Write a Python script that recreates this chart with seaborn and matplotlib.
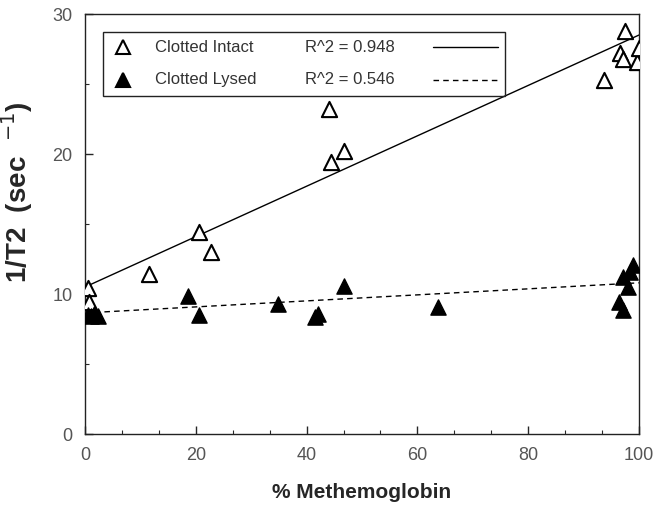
import numpy as np
import pandas as pd
import seaborn as sns
import matplotlib.pyplot as plt
from matplotlib.patches import Rectangle
from matplotlib.ticker import MultipleLocator

# data
intact_x = [0.6, 0.8, 11.6, 20.6, 22.7, 44.0, 44.4, 46.8, 93.7, 96.6, 97.2, 97.5, 99.6, 100.0]
intact_y = [10.4, 9.45, 11.4, 14.4, 13.0, 23.2, 19.4, 20.2, 25.3, 27.2, 26.8, 28.8, 26.6, 27.6]
lysed_x = [0.5, 1.0, 1.6, 2.3, 18.6, 20.6, 34.8, 41.5, 42.1, 46.8, 63.7, 96.3, 97.2, 97.2, 98.1, 98.4, 99.0]
lysed_y = [8.5, 8.4, 8.6, 8.4, 9.85, 8.5, 9.26, 8.38, 8.57, 10.6, 9.1, 9.45, 8.86, 11.2, 10.5, 11.6, 12.07]

# linear fits (intercept, slope) and R^2 as printed
intact_fit = (10.5, 0.180)
lysed_fit = (8.65, 0.0215)
intact_r2 = 0.948
lysed_r2 = 0.546

sns.set_style('ticks')
plt.rcParams['font.family'] = ['Liberation Sans', 'DejaVu Sans']

fig = plt.figure(figsize=(6.63, 5.12), dpi=100)
ax = fig.add_axes([0.1282, 0.1523, 0.8356, 0.8203])

sns.scatterplot(x=intact_x, y=intact_y, marker='^', s=120, color='white',
                edgecolor='black', linewidth=1.5, zorder=3, ax=ax)
sns.scatterplot(x=lysed_x, y=lysed_y, marker='^', s=120, color='black',
                edgecolor='black', linewidth=1.0, zorder=3, ax=ax)

fit_x = np.array([0, 100])
sns.lineplot(x=fit_x, y=intact_fit[0] + intact_fit[1] * fit_x, color='black', lw=1.0, ax=ax)
ax.lines[-1].set_linestyle('-')
sns.lineplot(x=fit_x, y=lysed_fit[0] + lysed_fit[1] * fit_x, color='black', lw=1.0, ax=ax)
ax.lines[-1].set_linestyle((0, (4, 3)))

ax.set(xlim=(0, 100), ylim=(0, 30))
ax.set_xticks([0, 20, 40, 60, 80, 100])
ax.set_yticks([0, 10, 20, 30])
ax.xaxis.set_minor_locator(MultipleLocator(20 / 3))
ax.yaxis.set_minor_locator(MultipleLocator(5))
ax.tick_params(which='major', direction='in', length=6, width=1, labelsize=13,
               labelcolor='#555555', pad=9)
ax.tick_params(which='minor', direction='in', length=3, width=0.8)
for s in ax.spines.values():
    s.set_linewidth(1.0)
    s.set_color('#222222')

ax.set_xlabel('% Methemoglobin', fontsize=15, fontweight='bold', labelpad=14)
ax.set_ylabel('1/T2  (sec  $^{-1}$)', fontsize=20, fontweight='bold')
ax.yaxis.set_label_coords(-0.09, 0.575)

# custom legend box
ax.add_patch(Rectangle((0.0325, 0.805), 0.7255, 0.152, transform=ax.transAxes,
                       fill=False, edgecolor='#222222', lw=1.0, zorder=4))
rows = [(0.921, 'white', 'Clotted Intact', intact_r2, '-'),
        (0.843, 'black', 'Clotted Lysed', lysed_r2, (0, (4, 3)))]
for yy, fc, lab, r2, ls in rows:
    ax.plot([0.0686], [yy], marker='^', ms=10, mfc=fc, mec='black', mew=1.5,
            transform=ax.transAxes, zorder=5, clip_on=False)
    ax.text(0.126, yy, lab, transform=ax.transAxes, va='center', fontsize=12, color='#333333')
    ax.text(0.397, yy, f'R^2 = {r2:.3f}', transform=ax.transAxes, va='center',
            fontsize=12, color='#333333')
    ax.plot([0.628, 0.745], [yy, yy], color='black', lw=1.0, ls=ls, transform=ax.transAxes)

fig.savefig('out.png', dpi=100)
